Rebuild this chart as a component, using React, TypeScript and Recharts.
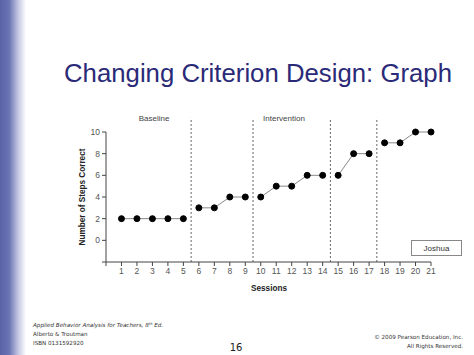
import { LineChart, Line, XAxis, YAxis, ReferenceLine } from 'recharts'

// session numbers and steps correct
const sessions = [1, 2, 3, 4, 5, 6, 7, 8, 9, 10, 11, 12, 13, 14, 15, 16, 17, 18, 19, 20, 21]
const stepsCorrect = [2, 2, 2, 2, 2, 3, 3, 4, 4, 4, 5, 5, 6, 6, 6, 8, 8, 9, 9, 10, 10]
// last session of each phase (phase lines sit halfway after these)
const phaseEnds = [5, 9, 14, 17, 21]
const xTicks = [0, ...sessions]
const yTicks = [-2, 0, 2, 4, 6, 8, 10]
const phaseLabels = [
  { text: 'Baseline', x: 154 },
  { text: 'Intervention', x: 284 },
]

const phases = phaseEnds.map((end, i) => {
  const start = i === 0 ? 1 : phaseEnds[i - 1] + 1
  return sessions
    .map((s, j) => ({ session: s, steps: stepsCorrect[j] }))
    .filter((d) => d.session >= start && d.session <= end)
})

const phaseLines = phaseEnds.slice(0, -1).map((e) => e + 0.5)

const font = 'Liberation Sans, Arial, sans-serif'
const smallFont = 'DejaVu Sans, Verdana, sans-serif'
const tickStyle = { fontSize: 8.5, fill: '#555', fontFamily: font }

export default function App() {
  return (
    <div style={{ position: 'absolute', left: 0, top: 0, width: 474, height: 355, background: '#fff', overflow: 'hidden' }}>
      <div
        style={{
          position: 'absolute',
          left: 0,
          top: 0,
          width: 26,
          height: 355,
          background: 'linear-gradient(to right, #5a63a6 0%, #6a73b3 35%, #c3c7e2 70%, #ffffff 100%)',
        }}
      />
      <LineChart
        width={474}
        height={355}
        margin={{ top: 132, right: 43, bottom: 73, left: 76 }}
        style={{ position: 'absolute', left: 0, top: 0 }}
      >
        <XAxis
          dataKey="session"
          type="number"
          domain={[0, 21]}
          ticks={xTicks}
          interval={0}
          tickFormatter={(v: number) => (v === 0 ? '' : String(v))}
          tick={tickStyle}
          stroke="#444"
          tickSize={4}
          height={20}
          allowDuplicatedCategory={false}
        />
        <YAxis
          type="number"
          domain={[-2, 10]}
          ticks={yTicks}
          interval={0}
          tickFormatter={(v: number) => (v === -2 ? '' : String(v))}
          tick={tickStyle}
          stroke="#444"
          tickSize={4}
          width={30}
        />
        {phaseLines.map((x) => (
          <ReferenceLine
            key={x}
            segment={[
              { x, y: -2 },
              { x, y: 11.3 },
            ]}
            ifOverflow="visible"
            stroke="#666"
            strokeDasharray="2 2"
          />
        ))}
        {phases.map((d, i) => (
          <Line
            key={i}
            data={d}
            dataKey="steps"
            stroke="#888"
            strokeWidth={1}
            dot={{ r: 3, fill: '#000', stroke: '#000' }}
            isAnimationActive={false}
          />
        ))}
      </LineChart>
      <svg width={474} height={355} style={{ position: 'absolute', left: 0, top: 0, pointerEvents: 'none' }}>
        <text x={64} y={82} textLength={388} lengthAdjust="spacingAndGlyphs" fontFamily="Liberation Sans, Arial, sans-serif" fontSize={26} fill="#2a2a78">
          Changing Criterion Design: Graph
        </text>
        {phaseLabels.map((p) => (
          <text key={p.text} x={p.x} y={121} textAnchor="middle" fontFamily={font} fontSize={8} fill="#444">
            {p.text}
          </text>
        ))}
        <text
          x={0}
          y={0}
          transform="translate(85,197) rotate(-90)"
          textAnchor="middle"
          fontFamily={font}
          fontSize={8.2}
          fontWeight="bold"
          fill="#222"
        >
          Number of Steps Correct
        </text>
        <text x={269} y={291} textAnchor="middle" fontFamily={font} fontSize={8.2} fontWeight="bold" fill="#222">
          Sessions
        </text>
        <rect x={411.5} y={240.5} width={50} height={15} fill="#fff" stroke="#888" />
        <text x={436.5} y={251} textAnchor="middle" fontFamily={font} fontSize={8} fill="#333">
          Joshua
        </text>
        <text x={33} y={327} fontFamily={smallFont} fontSize={5.6} fontStyle="italic" fill="#333">
          Applied Behavior Analysis for Teachers, 8<tspan fontSize={3.6} dy={-2.2}>th</tspan>
          <tspan dy={2.2}> Ed.</tspan>
        </text>
        <text x={33} y={336} fontFamily={smallFont} fontSize={5.6} fill="#333">
          Alberto &amp; Troutman
        </text>
        <text x={33} y={345} fontFamily={smallFont} fontSize={5.6} fill="#333">
          ISBN 0131592920
        </text>
        <text x={236} y={351} textAnchor="middle" fontFamily={smallFont} fontSize={10} fill="#222">
          16
        </text>
        <text x={463} y={339} textAnchor="end" fontFamily={smallFont} fontSize={5.6} fill="#333">
          © 2009 Pearson Education, Inc.
        </text>
        <text x={463} y={348} textAnchor="end" fontFamily={smallFont} fontSize={5.6} fill="#333">
          All Rights Reserved.
        </text>
      </svg>
    </div>
  )
}
